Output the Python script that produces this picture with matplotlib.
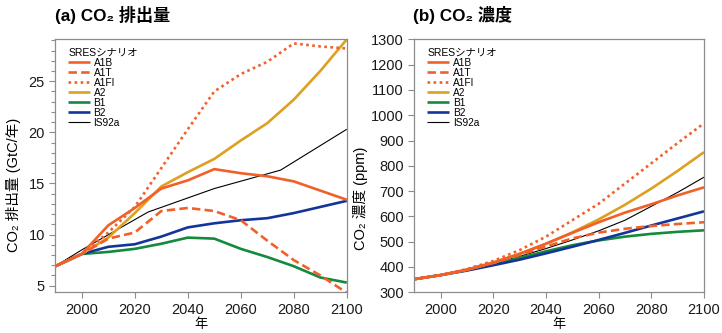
import matplotlib
matplotlib.use("Agg")
import matplotlib.pyplot as plt
from matplotlib.ticker import MultipleLocator

plt.rcParams['font.family'] = ['Liberation Sans', 'Noto Sans CJK JP', 'DejaVu Sans']

# ---------------- data ----------------
scenarios = ["A1B", "A1T", "A1FI", "A2", "B1", "B2", "IS92a"]

years = [1990, 2000, 2010, 2020, 2030, 2040, 2050, 2060, 2070, 2080, 2090, 2100]
years_is92a = [1990, 2000, 2025, 2050, 2075, 2100]

# Emissions (GtC/yr)
em_A1B = [6.9, 8.1, 10.9, 12.6, 14.5, 15.3, 16.4, 16.0, 15.7, 15.2, 14.3, 13.4]
em_A1T = [6.9, 8.1, 9.6, 10.2, 12.3, 12.6, 12.3, 11.4, 9.4, 7.5, 6.0, 4.3]
em_A1FI = [6.9, 8.1, 10.2, 12.7, 16.5, 20.3, 24.0, 25.7, 26.9, 28.7, 28.4, 28.2]
em_A2 = [6.9, 8.1, 9.7, 12.1, 14.7, 16.1, 17.4, 19.2, 20.9, 23.2, 26.0, 29.1]
em_B1 = [6.9, 8.1, 8.3, 8.6, 9.1, 9.7, 9.6, 8.6, 7.8, 6.9, 5.8, 5.3]
em_B2 = [6.9, 8.1, 8.8, 9.05, 9.8, 10.7, 11.1, 11.4, 11.6, 12.1, 12.7, 13.3]
em_IS92a = [6.9, 8.5, 12.2, 14.5, 16.3, 20.3]

# Concentrations (ppm)
co_A1B = [352, 368, 390, 418, 452, 492, 535, 577, 615, 648, 683, 715]
co_A1T = [352, 368, 389, 416, 447, 481, 513, 536, 551, 562, 570, 577]
co_A1FI = [352, 368, 392, 424, 467, 520, 585, 650, 730, 810, 890, 968]
co_A2 = [352, 368, 389, 417, 452, 492, 537, 588, 646, 710, 780, 854]
co_B1 = [352, 368, 388, 411, 436, 462, 486, 505, 520, 531, 539, 545]
co_B2 = [352, 368, 386, 407, 429, 454, 480, 507, 535, 564, 592, 620]
co_IS92a = [352, 368, 388, 413, 442, 473, 507, 543, 585, 640, 695, 755]

xticks = [2000, 2020, 2040, 2060, 2080, 2100]

# ---------------- styles ----------------
ORANGE = '#F2602A'
GOLD = '#DDA020'
GREEN = '#138A3C'
BLUE = '#13359A'
styles = {
    "A1B": dict(color=ORANGE, ls='-', lw=1.9),
    "A1T": dict(color=ORANGE, ls=(0, (3.2, 1.6)), lw=1.9),
    "A1FI": dict(color=ORANGE, ls=(0, (1.0, 1.3)), lw=1.9),
    "A2": dict(color=GOLD, ls='-', lw=1.9),
    "B1": dict(color=GREEN, ls='-', lw=1.9),
    "B2": dict(color=BLUE, ls='-', lw=1.9),
    "IS92a": dict(color='black', ls='-', lw=0.8),
}

em = {"A1B": em_A1B, "A1T": em_A1T, "A1FI": em_A1FI, "A2": em_A2,
      "B1": em_B1, "B2": em_B2, "IS92a": em_IS92a}
co = {"A1B": co_A1B, "A1T": co_A1T, "A1FI": co_A1FI, "A2": co_A2,
      "B1": co_B1, "B2": co_B2, "IS92a": co_IS92a}

W, H = 722, 333
fig = plt.figure(figsize=(W / 100, H / 100), dpi=100)

axL = fig.add_axes([55.3 / W, 1 - 292.3 / H, 291.5 / W, 253 / H])
axR = fig.add_axes([414.4 / W, 1 - 292.3 / H, 289.6 / W, 253 / H])

spine_col = '#8c8c8c'
for ax in (axL, axR):
    for s in ax.spines.values():
        s.set_color(spine_col)
        s.set_linewidth(0.9)
    ax.tick_params(axis='both', which='both', direction='out', color=spine_col,
                   labelsize=10.5, labelcolor='#1a1a1a', width=0.8)
    ax.tick_params(axis='both', which='major', length=4)
    ax.tick_params(axis='y', which='minor', length=3)
    ax.set_xlim(1990, 2100)
    ax.set_xticks(xticks)
    ax.set_xlabel('年', fontsize=9.5, labelpad=1.5)

order_draw = ["IS92a", "B1", "B2", "A2", "A1T", "A1FI", "A1B"]
for name in order_draw:
    x = years_is92a if name == "IS92a" else years
    axL.plot(x, em[name], **styles[name], label=name, solid_capstyle='butt')
    axR.plot(years, co[name], **styles[name], label=name, solid_capstyle='butt')

axL.set_ylim(4.35, 29.1)
axL.set_yticks([5, 10, 15, 20, 25])
axL.yaxis.set_minor_locator(MultipleLocator(1))
axL.set_ylabel('CO₂ 排出量 (GtC/年)', fontsize=10.5)

axR.set_ylim(300, 1300)
axR.set_yticks(range(300, 1301, 100))
axR.set_ylabel('CO₂ 濃度 (ppm)', fontsize=10.5)

for ax, lx, ly in ((axL, (13 - 55.3) / 291.5, 0.16), (axR, (361 - 414.4) / 289.6, 0.167)):
    lab = ax.yaxis.label
    lab.set_rotation_mode('anchor')
    lab.set_ha('left')
    lab.set_va('center')
    ax.yaxis.set_label_coords(lx, ly)

for ax in (axL, axR):
    handles, labels = ax.get_legend_handles_labels()
    hd = dict(zip(labels, handles))
    leg = ax.legend([hd[n] for n in scenarios], scenarios, title='SRESシナリオ',
                    loc='upper left', frameon=False, fontsize=7.3,
                    title_fontsize=7.5, handlelength=2.1, handletextpad=0.4,
                    labelspacing=0.0, borderaxespad=0.3,
                    bbox_to_anchor=(0.02, 0.995))
    leg._legend_box.align = 'left'

fig.text(55 / W, 1 - 15 / H, '(a) CO₂ 排出量', fontsize=12.3, fontweight='bold',
         ha='left', va='center')
fig.text(413 / W, 1 - 15 / H, '(b) CO₂ 濃度', fontsize=12.3, fontweight='bold',
         ha='left', va='center')

fig.savefig('out.png', dpi=100)
